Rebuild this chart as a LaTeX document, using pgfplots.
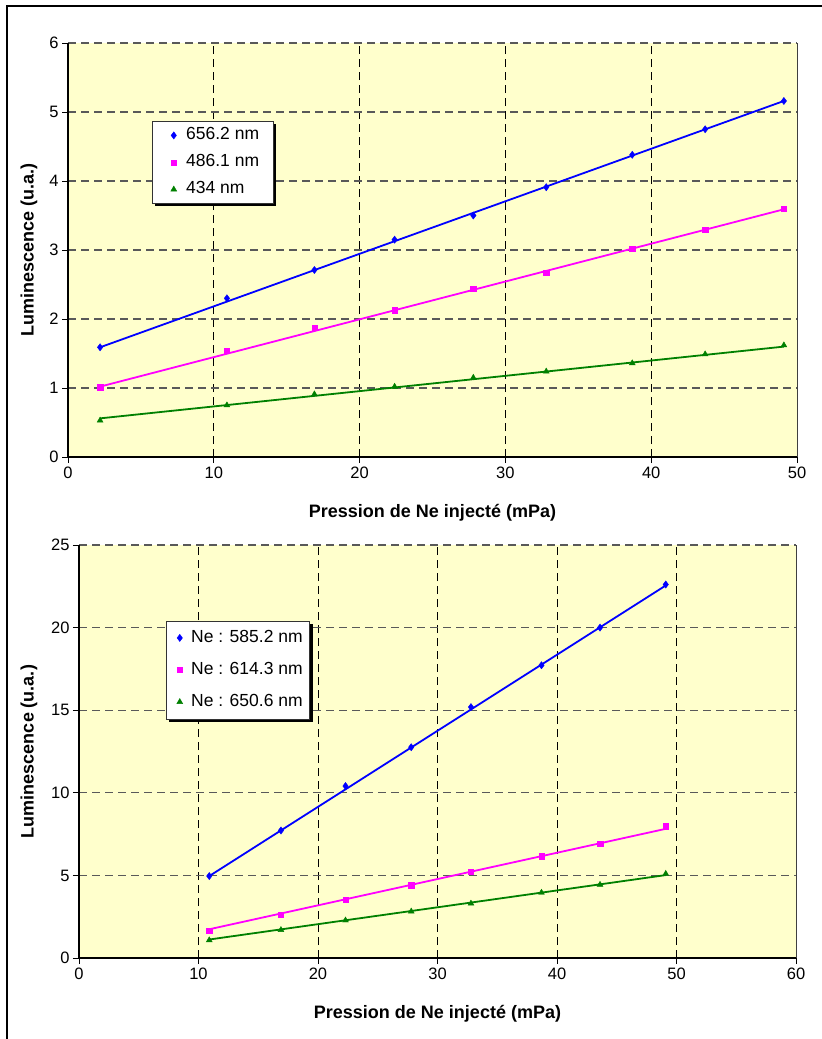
\documentclass[border=0pt]{standalone}
\usepackage{pgfplots}
\pgfplotsset{compat=1.18}
\usepackage{fontspec}
\setmainfont{Liberation Sans}
\usetikzlibrary{shadows}
\definecolor{bgy}{RGB}{255,255,204}
\definecolor{sblue}{RGB}{0,0,255}
\definecolor{spink}{RGB}{255,0,255}
\definecolor{sgreen}{RGB}{0,128,0}

\pgfplotsset{
  lumstyle/.style={
    scale only axis,
    axis background/.style={fill=bgy},
    axis line style={draw=none},
    tick pos=left,
    tick align=outside,
    major tick length=6pt,
    tick style={black, line width=1pt},
    /pgf/number format/assume math mode=true,
    tick label style={font=\fontsize{16.5}{19}\selectfont},
    xmajorgrids, ymajorgrids,
    x grid style={black, line width=1pt, dash pattern=on 8pt off 5pt},
    y grid style={black!65, line width=1.2pt, dash pattern=on 8pt off 5pt},
    every axis x label/.style={at={(rel axis cs:0.5,0)}, anchor=center, yshift=-56pt, font=\bfseries\fontsize{18}{21}\selectfont},
    after end axis/.code={
      \draw[black!75, line width=1pt] (rel axis cs:1,0) -- (rel axis cs:1,1);
      \draw[black, line width=1.8pt] (rel axis cs:0,1) -- (rel axis cs:0,0) -- (rel axis cs:1,0);
    },
    legend cell align=left,
    legend style={draw=black!80, line width=0.8pt, fill=white,
      font=\fontsize{17.5}{20}\selectfont,
      drop shadow={shadow xshift=3pt, shadow yshift=-3pt, fill=black, opacity=1},
      anchor=north west,
      nodes={inner sep=0pt, text height=13pt, text depth=4pt}},
    mblue/.style={only marks, mark=diamond*, mark size=3.6pt, color=sblue, mark options={fill=sblue, draw=sblue, line width=0.4pt}},
    mpink/.style={only marks, mark=square*, mark size=2.7pt, color=spink, mark options={fill=spink, draw=spink, line width=0.4pt}},
    mgreen/.style={only marks, mark=triangle*, mark size=3.4pt, color=sgreen, mark options={fill=sgreen, draw=sgreen, line width=0.4pt}},
    tblue/.style={no marks, sblue, line width=1.8pt, forget plot},
    tpink/.style={no marks, spink, line width=1.8pt, forget plot},
    tgreen/.style={no marks, sgreen, line width=1.8pt, forget plot},
  }
}

\begin{document}
\begin{tikzpicture}
\path[use as bounding box] (0,0) rectangle (822pt,-1039pt);
\draw[line width=2pt] (7pt,-1039pt) -- (7pt,-5.5pt) -- (822pt,-5.5pt);

% ---------- top chart ----------
\begin{axis}[lumstyle,
  at={(68pt,-457pt)}, anchor=south west,
  width=729pt, height=414pt,
  xmin=0, xmax=50, ymin=0, ymax=6,
  xtick={0,10,...,50}, ytick={0,1,...,6},
  xlabel={Pression de Ne inject\'e (mPa)},
  ylabel={Luminescence (u.a.)},
  every axis y label/.style={at={([xshift=-39pt]rel axis cs:0,0.5)}, rotate=90, anchor=center, font=\bfseries\fontsize{18}{21}\selectfont},
  legend style={at={(rel axis cs:0.1152,0.8116)}, inner xsep=14pt, inner ysep=5.5pt, row sep=10pt},
  legend image code/.code={\path (0pt,0pt) (19pt,0pt); \draw[#1] plot coordinates {(7pt,0pt)};},
]
\addplot[tblue] coordinates {(2.2,1.59) (49.1,5.16)};
\addplot[tpink] coordinates {(2.2,1.02) (49.1,3.59)};
\addplot[tgreen] coordinates {(2.2,0.56) (49.1,1.60)};
\addplot[mblue] coordinates {(2.2,1.59) (10.9,2.30) (16.9,2.71) (22.4,3.15) (27.8,3.50) (32.8,3.91) (38.7,4.38) (43.7,4.75) (49.1,5.16)};
\addplot[mpink] coordinates {(2.2,1.01) (10.9,1.54) (16.9,1.87) (22.4,2.13) (27.8,2.44) (32.8,2.67) (38.7,3.02) (43.7,3.29) (49.1,3.60)};
\addplot[mgreen] coordinates {(2.2,0.53) (10.9,0.75) (16.9,0.91) (22.4,1.02) (27.8,1.15) (32.8,1.24) (38.7,1.36) (43.7,1.49) (49.1,1.62)};
\legend{656.2 nm, 486.1 nm, 434 nm}
\end{axis}

% ---------- bottom chart ----------
\begin{axis}[lumstyle,
  at={(79pt,-958pt)}, anchor=south west,
  width=717pt, height=413pt,
  xmin=0, xmax=60, ymin=0, ymax=25,
  xtick={0,10,...,60}, ytick={0,5,...,25},
  xlabel={Pression de Ne inject\'e (mPa)},
  ylabel={Luminescence (u.a.)},
  every axis y label/.style={at={([xshift=-50pt]rel axis cs:0,0.5)}, rotate=90, anchor=center, font=\bfseries\fontsize{18}{21}\selectfont},
  legend style={at={(rel axis cs:0.1213,0.8172)}, inner xsep=7pt, inner ysep=8.5pt, row sep=15pt},
  legend image code/.code={\path (0pt,0pt) (17pt,0pt); \draw[#1] plot coordinates {(6pt,0pt)};},
]
\addplot[tblue] coordinates {(10.9,4.96) (49.1,22.55)};
\addplot[tpink] coordinates {(10.9,1.74) (49.1,7.82)};
\addplot[tgreen] coordinates {(10.9,1.12) (49.1,5.02)};
\addplot[mblue] coordinates {(10.9,4.96) (16.9,7.72) (22.3,10.41) (27.8,12.76) (32.8,15.19) (38.7,17.72) (43.6,20.0) (49.1,22.61)};
\addplot[mpink] coordinates {(10.9,1.66) (16.9,2.63) (22.3,3.53) (27.8,4.40) (32.8,5.21) (38.7,6.16) (43.6,6.93) (49.1,7.97)};
\addplot[mgreen] coordinates {(10.9,1.08) (16.9,1.70) (22.3,2.28) (27.8,2.82) (32.8,3.30) (38.7,3.96) (43.6,4.44) (49.1,5.10)};
\legend{Ne : 585.2 nm, Ne : 614.3 nm, Ne : 650.6 nm}
\end{axis}
\end{tikzpicture}
\end{document}
